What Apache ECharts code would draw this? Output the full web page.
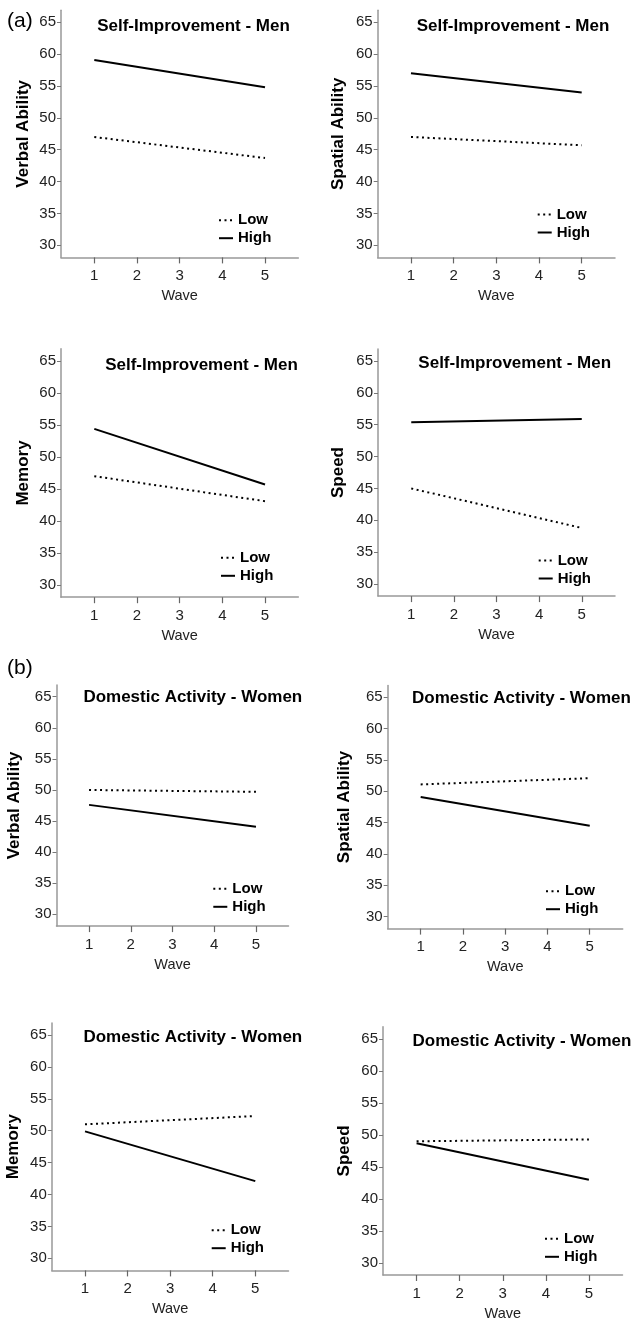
<!DOCTYPE html>
<html><head><meta charset="utf-8">
<script src="https://cdn.jsdelivr.net/npm/echarts@6/dist/echarts.min.js"></script>
<style>html,body{margin:0;padding:0;background:#fff}#c{width:635px;height:1322px}</style>
</head><body><div id="c"></div>
<script>
// ---- data ----
const waves = [1, 5];
const xTickLabels = [1, 2, 3, 4, 5];
const yTickLabels = [30, 35, 40, 45, 50, 55, 60, 65];
const seriesNames = ['Low', 'High'];
const sectionLabels = ['(a)', '(b)'];
const panelTitles = [
  'Self-Improvement - Men', 'Self-Improvement - Men', 'Self-Improvement - Men', 'Self-Improvement - Men',
  'Domestic Activity - Women', 'Domestic Activity - Women', 'Domestic Activity - Women', 'Domestic Activity - Women'
];
const yAxisNames = ['Verbal Ability', 'Spatial Ability', 'Memory', 'Speed',
                    'Verbal Ability', 'Spatial Ability', 'Memory', 'Speed'];
const xAxisName = 'Wave';

const menVerbalLow = [47.0, 43.7];
const menVerbalHigh = [59.1, 54.8];
const menSpatialLow = [47.0, 45.7];
const menSpatialHigh = [57.0, 54.0];
const menMemoryLow = [47.0, 43.1];
const menMemoryHigh = [54.4, 45.7];
const menSpeedLow = [45.0, 38.8];
const menSpeedHigh = [55.4, 55.9];
const womenVerbalLow = [50.0, 49.7];
const womenVerbalHigh = [47.6, 44.1];
const womenSpatialLow = [51.1, 52.1];
const womenSpatialHigh = [49.1, 44.5];
const womenMemoryLow = [51.0, 52.3];
const womenMemoryHigh = [49.9, 42.1];
const womenSpeedLow = [49.0, 49.3];
const womenSpeedHigh = [48.7, 43.0];

const lowSets = [menVerbalLow, menSpatialLow, menMemoryLow, menSpeedLow,
                 womenVerbalLow, womenSpatialLow, womenMemoryLow, womenSpeedLow];
const highSets = [menVerbalHigh, menSpatialHigh, menMemoryHigh, menSpeedHigh,
                  womenVerbalHigh, womenSpatialHigh, womenMemoryHigh, womenSpeedHigh];

// ---- layout (positions only) ----
const layout = [
  {grid: [61, 10.2, 237.3, 247.2], title: [193.5, 26], legend: [218, 220.7], yGap: 29},
  {grid: [377.7, 10.2, 237.3, 247.2], title: [513, 26], legend: [536.7, 215], yGap: 30.5},
  {grid: [61, 348.8, 237.3, 248.4], title: [201.5, 365], legend: [220, 558.3], yGap: 29},
  {grid: [378, 348.9, 237, 247.2], title: [514.7, 363.3], legend: [537.7, 561], yGap: 31},
  {grid: [56.5, 684.9, 232, 241.2], title: [192.8, 697.3], legend: [212.3, 889.3], yGap: 34},
  {grid: [387.7, 685.4, 235, 243.2], title: [521.5, 698.3], legend: [545, 891.7], yGap: 34.5},
  {grid: [51.8, 1022.9, 236.7, 247.5], title: [192.8, 1037.7], legend: [210.7, 1230.7], yGap: 29.5},
  {grid: [383, 1026.8, 239.5, 248.7], title: [522, 1041.7], legend: [544, 1239.3], yGap: 30}
];
const sectionPos = [[7, 21.7], [7, 668.3]];

const FONT = 'Liberation Sans, Arial, sans-serif';
const grids = [], xAxes = [], yAxes = [], series = [], titles = [], legends = [];

layout.forEach((p, i) => {
  grids.push({left: p.grid[0], top: p.grid[1], width: p.grid[2], height: p.grid[3], containLabel: false});
  xAxes.push({
    type: 'value', gridIndex: i, min: 0.22, max: 5.78,
    name: xAxisName, nameLocation: 'middle', nameGap: 31,
    nameTextStyle: {fontSize: 14.5, color: '#222', fontFamily: FONT},
    axisLine: {show: true, lineStyle: {color: '#999', width: 1.5}},
    axisTick: {show: true, length: 6, customValues: xTickLabels, lineStyle: {color: '#666', width: 1.2}},
    axisLabel: {customValues: xTickLabels, margin: 11, fontSize: 15, color: '#222', fontFamily: FONT},
    splitLine: {show: false}
  });
  yAxes.push({
    type: 'value', gridIndex: i, min: 28.1, max: 66.9,
    name: yAxisNames[i], nameLocation: 'middle', nameGap: p.yGap,
    nameTextStyle: {fontSize: 17, fontWeight: 'bold', color: '#000', fontFamily: FONT},
    axisLine: {show: true, lineStyle: {color: '#999', width: 1.5}},
    axisTick: {show: true, length: 4, customValues: yTickLabels, lineStyle: {color: '#777', width: 1}},
    axisLabel: {customValues: yTickLabels, margin: 5, fontSize: 15, color: '#222', fontFamily: FONT},
    splitLine: {show: false}
  });
  series.push({
    name: seriesNames[0], type: 'line', xAxisIndex: i, yAxisIndex: i, symbol: 'none', silent: true,
    data: waves.map((w, k) => [w, lowSets[i][k]]),
    lineStyle: {color: '#000', width: 2, type: [2, 3.5]}, itemStyle: {color: '#000'}
  });
  series.push({
    name: seriesNames[1], type: 'line', xAxisIndex: i, yAxisIndex: i, symbol: 'none', silent: true,
    data: waves.map((w, k) => [w, highSets[i][k]]),
    lineStyle: {color: '#000', width: 2, type: 'solid'}, itemStyle: {color: '#000'}
  });
  titles.push({
    text: panelTitles[i], left: p.title[0], top: p.title[1], textAlign: 'center', textVerticalAlign: 'middle', padding: 0,
    textStyle: {fontSize: 17, fontWeight: 'bold', color: '#000', fontFamily: FONT}
  });
  legends.push({
    left: p.legend[0], top: p.legend[1] - 8, orient: 'vertical', padding: 0,
    itemWidth: 14, itemHeight: 10, itemGap: 3, selectedMode: false,
    data: seriesNames,
    itemStyle: {color: 'rgba(0,0,0,0)', borderColor: 'rgba(0,0,0,0)', borderWidth: 0, opacity: 0},
    lineStyle: {color: '#000', width: 2},
    textStyle: {fontSize: 15, fontWeight: 'bold', color: '#000', fontFamily: FONT}
  });
});
sectionLabels.forEach((t, j) => {
  titles.push({
    text: t, left: sectionPos[j][0], top: sectionPos[j][1], textAlign: 'left', textVerticalAlign: 'middle', padding: 0,
    textStyle: {fontSize: 21, fontWeight: 'normal', color: '#000', fontFamily: FONT}
  });
});

const chart = echarts.init(document.getElementById('c'), null, {renderer: 'canvas'});
chart.setOption({
  animation: false,
  backgroundColor: '#fff',
  title: titles,
  legend: legends,
  grid: grids,
  xAxis: xAxes,
  yAxis: yAxes,
  series: series
});
</script>
</body></html>
